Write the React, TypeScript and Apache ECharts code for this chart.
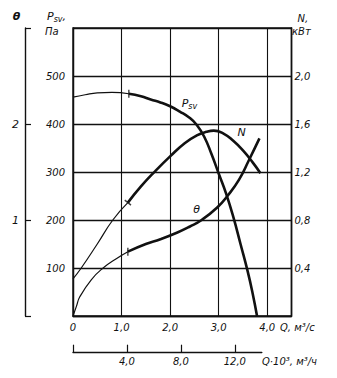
import { useEffect, useRef } from 'react';
import * as echarts from 'echarts';

// Q, m3/s  vs  static pressure Psv, Pa
const psvThin: [number, number][] = [[0, 456], [0.25, 461], [0.5, 465], [0.8, 466], [1.15, 463]];
const psvThick: [number, number][] = [
  [1.15, 463], [1.4, 458], [1.6, 451], [1.8, 445], [2.0, 437], [2.2, 426], [2.4, 413],
  [2.55, 398], [2.7, 374], [2.85, 338], [3.0, 297], [3.15, 256], [3.3, 207], [3.45, 150],
  [3.6, 92], [3.7, 47], [3.79, 0],
];
// Q vs power N, kW
const nThin: [number, number][] = [[0, 0.31], [0.17, 0.4], [0.5, 0.6], [0.82, 0.8], [1.13, 0.945]];
const nThick: [number, number][] = [
  [1.13, 0.945], [1.4, 1.08], [1.7, 1.21], [2.0, 1.33], [2.3, 1.44], [2.55, 1.505],
  [2.75, 1.535], [2.9, 1.545], [3.1, 1.52], [3.3, 1.46], [3.5, 1.38], [3.7, 1.28], [3.86, 1.19],
];
// Q vs theta
const thetaThin: [number, number][] = [[0, 0], [0.07, 0.1], [0.14, 0.2], [0.38, 0.38], [0.62, 0.5], [0.9, 0.6], [1.13, 0.67]];
const thetaThick: [number, number][] = [
  [1.13, 0.67], [1.5, 0.75], [1.8, 0.8], [2.15, 0.87], [2.4, 0.93], [2.65, 1.0],
  [2.97, 1.13], [3.18, 1.25], [3.42, 1.42], [3.62, 1.62], [3.84, 1.85],
];
// marks where thin part turns thick
const psvMark: [number, number][] = [[1.15, 463]];
const nMark: [number, number][] = [[1.13, 0.945]];
const thetaMark: [number, number][] = [[1.13, 0.67]];

const qLabels = [0, 1, 2, 3, 4];
const paLabels = [100, 200, 300, 400, 500];
const nLabels = [0.4, 0.8, 1.2, 1.6, 2.0];
const thetaLabels = [1, 2];
const qHourLabels = [4000, 8000, 12000];
const qHourTicks = [0, 4000, 8000, 12000];

const INK = '#111';
const FF = '"DejaVu Sans", sans-serif';
const labelStyle = { color: INK, fontFamily: FF, fontStyle: 'italic' as const, fontSize: 10 };
const comma = (v: number) => (v === 0 ? '0' : v.toFixed(1).replace('.', ','));

export default function App() {
  const ref = useRef<HTMLDivElement>(null);
  useEffect(() => {
    if (!ref.current) return;
    const chart = echarts.init(ref.current, null, { renderer: 'svg' });
    const line = (data: [number, number][], yAxisIndex: number, width: number) => ({
      type: 'line', xAxisIndex: 0, yAxisIndex, data, smooth: 0.5, symbol: 'none',
      lineStyle: { color: INK, width }, silent: true,
    });
    const mark = (data: [number, number][], yAxisIndex: number, rot: number) => ({
      type: 'scatter', xAxisIndex: 0, yAxisIndex, data, symbol: 'rect', symbolSize: [1.4, 8],
      symbolRotate: rot, itemStyle: { color: INK }, silent: true,
    });
    const txt = (text: string, x: number, y: number, align = 'left', size = 10, extra: any = {}) => ({
      type: 'text', x, y, silent: true,
      style: { text, fill: INK, font: `italic ${size}px ${FF}`, align, verticalAlign: 'middle', ...extra },
    });
    const richP = {
      a: { font: `italic 11px ${FF}`, lineHeight: 13, verticalAlign: 'bottom' },
      b: { font: `italic 8px ${FF}`, lineHeight: 13, verticalAlign: 'bottom', padding: [0, 0, -2, 0] },
    };
    chart.setOption({
      animation: false,
      grid: [
        { left: 73, top: 28, width: 218.5, height: 288, show: true, borderColor: INK, borderWidth: 1.4 },
        { left: 73, top: 330, width: 188.8, height: 22.7 },
      ],
      xAxis: [
        {
          type: 'value', gridIndex: 0, min: 0, max: 4.5, interval: 1,
          axisLine: { show: true, lineStyle: { color: INK, width: 1.4 } },
          axisTick: { show: false },
          splitLine: { show: true, lineStyle: { color: INK, width: 1.1 } },
          axisLabel: { ...labelStyle, margin: 6, customValues: qLabels, formatter: (v: number) => comma(v) },
        },
        {
          type: 'value', gridIndex: 1, min: 0, max: 14000, interval: 4000, position: 'bottom',
          axisLine: { show: true, lineStyle: { color: INK, width: 1.4 } },
          axisTick: { show: true, inside: true, length: 8, customValues: qHourTicks, lineStyle: { color: INK, width: 1.2 } },
          splitLine: { show: false },
          axisLabel: { ...labelStyle, margin: 4, customValues: qHourLabels, formatter: (v: number) => comma(v / 1000) },
        },
      ],
      yAxis: [
        {
          type: 'value', gridIndex: 0, min: 0, max: 600, interval: 100, position: 'left',
          axisLine: { show: true, lineStyle: { color: INK, width: 1.4 } },
          axisTick: { show: false },
          splitLine: { show: true, lineStyle: { color: INK, width: 1.3 } },
          axisLabel: { ...labelStyle, margin: 8, customValues: paLabels },
        },
        {
          type: 'value', gridIndex: 0, min: 0, max: 2.4, interval: 0.4, position: 'right',
          axisLine: { show: true, lineStyle: { color: INK, width: 1.4 } },
          axisTick: { show: false },
          splitLine: { show: false },
          axisLabel: { ...labelStyle, margin: 3, customValues: nLabels, formatter: (v: number) => comma(v) },
        },
        {
          type: 'value', gridIndex: 0, min: 0, max: 3, interval: 1, position: 'left', offset: 48,
          axisLine: { show: true, lineStyle: { color: INK, width: 1.4 } },
          axisTick: { show: true, inside: true, length: 6, lineStyle: { color: INK, width: 1.2 } },
          splitLine: { show: false },
          axisLabel: { ...labelStyle, fontSize: 11, margin: 6, customValues: thetaLabels },
        },
        { type: 'value', gridIndex: 1, show: false, min: 0, max: 1 },
      ],
      series: [
        line(psvThin, 0, 1.2), line(psvThick, 0, 2.6),
        line(nThin, 1, 1.2), line(nThick, 1, 2.6),
        line(thetaThin, 2, 1.2), line(thetaThick, 2, 2.6),
        mark(psvMark, 0, 0), mark(nMark, 1, 51), mark(thetaMark, 2, 0),
      ],
      graphic: [
        txt('θ', 16.5, 16, 'center', 11, { font: `italic bold 11px ${FF}` }),
        {
          type: 'text', x: 47, y: 15, silent: true,
          style: { text: '{a|P}{b|sv}{a|,}', fill: INK, verticalAlign: 'middle', rich: richP },
        },
        txt('Па', 45, 31, 'left', 10),
        txt('N,', 297.5, 18, 'left', 10),
        txt('кВт', 292, 31.5, 'left', 10),
        {
          type: 'text', x: 181.7, y: 102, silent: true,
          style: { text: '{a|P}{b|sv}', fill: INK, verticalAlign: 'middle', rich: richP },
        },
        txt('N', 241.5, 132.5, 'center', 11),
        txt('θ', 196.5, 209.5, 'center', 11),
        txt('Q, м³/с', 280, 327.5, 'left', 10),
        txt('Q·10³, м³/ч', 262, 361.5, 'left', 10),
      ],
    });
    return () => chart.dispose();
  }, []);
  return <div ref={ref} style={{ position: 'fixed', left: 0, top: 0, width: 337, height: 378, background: '#fff' }} />;
}
